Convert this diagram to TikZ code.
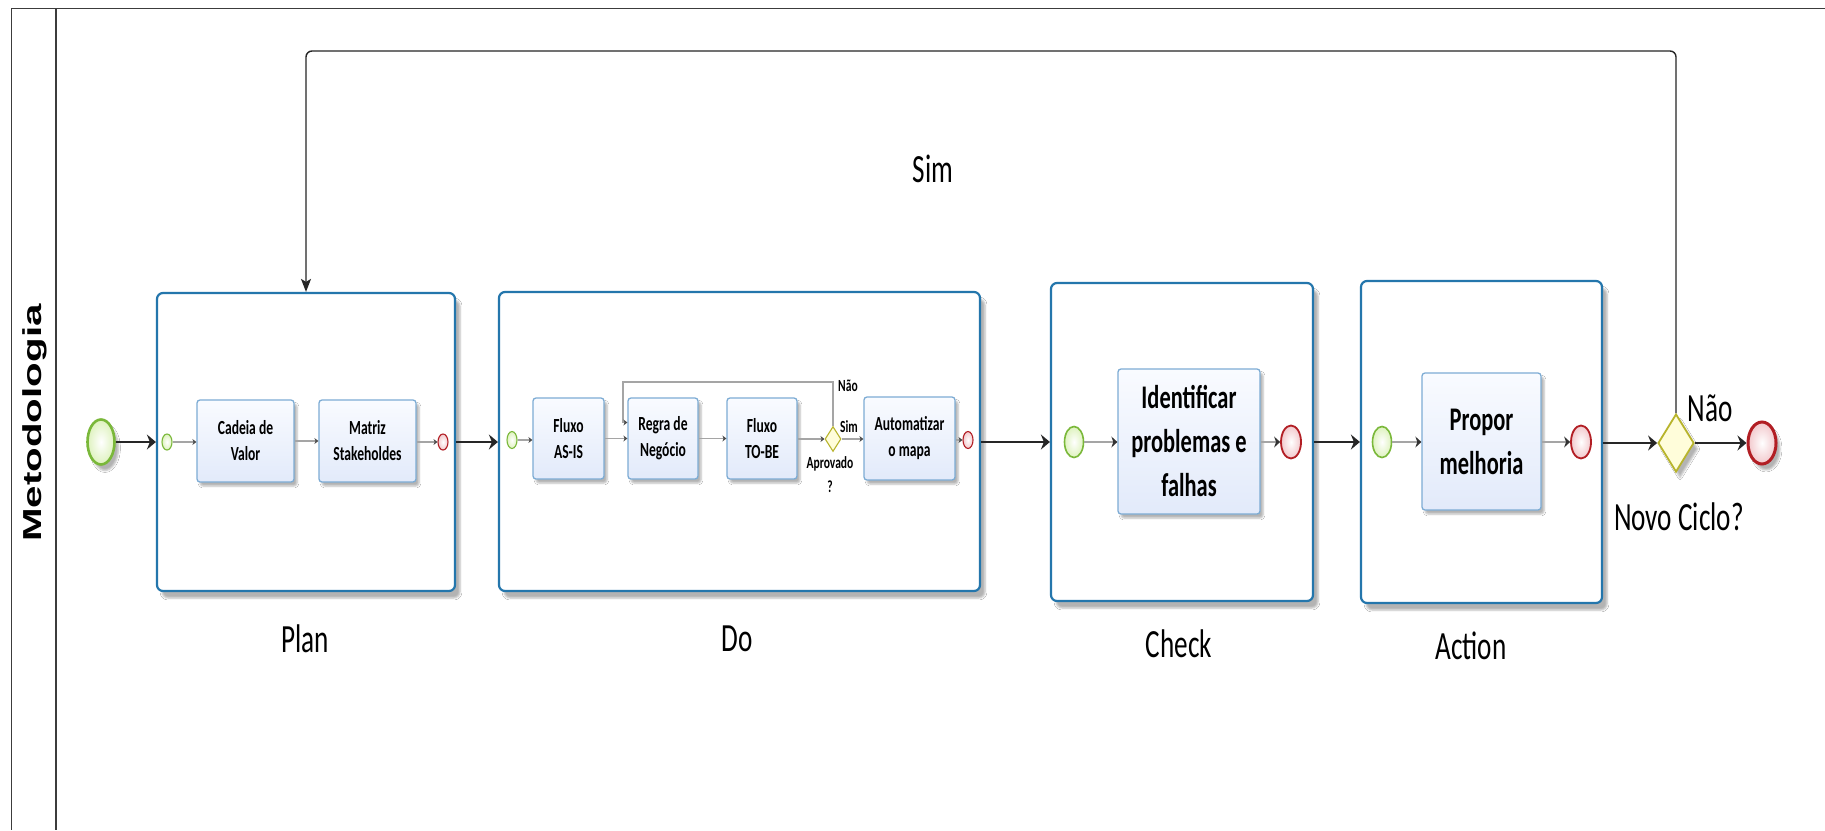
\documentclass[tikz,border=0pt]{standalone}
\usepackage{fontspec}
\setmainfont{Carlito}
\newfontfamily\condfont[FakeStretch=0.68]{Carlito}
\newfontfamily\lanefont[FakeStretch=1.55]{Liberation Sans}
\usetikzlibrary{shapes.geometric,arrows.meta,shadows.blur}

\definecolor{subblue}{RGB}{36,118,172}
\definecolor{taskline}{RGB}{125,172,212}
\definecolor{tasktop}{RGB}{249,251,255}
\definecolor{taskbot}{RGB}{226,234,250}
\definecolor{startline}{RGB}{122,184,58}
\definecolor{startfill}{RGB}{222,242,190}
\definecolor{endline}{RGB}{178,30,36}
\definecolor{endfill}{RGB}{242,200,204}
\definecolor{gwline}{RGB}{184,180,44}
\definecolor{gwfill}{RGB}{255,253,218}
\definecolor{framecol}{RGB}{60,60,60}
\definecolor{innerline}{RGB}{165,165,165}

\newcommand\tasktext{\condfont\bfseries\fontsize{20}{26}\selectfont}
\newcommand\bigtasktext{\condfont\bfseries\fontsize{33}{44}\selectfont}
\newcommand\phaselabel{\condfont\fontsize{40}{44}\selectfont}
\newcommand\smalllabel{\condfont\bfseries\fontsize{17}{24}\selectfont}

\begin{document}
\begin{tikzpicture}[x=1pt,y=-1pt,
  subproc/.style={draw=subblue, line width=2.2pt, rounded corners=6pt, fill=white,
    inner sep=0pt,
    blur shadow={shadow xshift=5pt, shadow yshift=-7pt, shadow opacity=30}},
  task/.style={draw=taskline, line width=1.3pt, rounded corners=3pt,
    top color=tasktop, bottom color=taskbot, align=center, inner sep=0pt,
    blur shadow={shadow xshift=3pt, shadow yshift=-4pt, shadow opacity=30}},
  startev/.style={ellipse, inner sep=0pt, draw=startline, inner color=white,
    outer color=startfill},
  endev/.style={ellipse, inner sep=0pt, draw=endline, inner color=white,
    outer color=endfill},
  gateway/.style={diamond, inner sep=0pt, draw=gwline, fill=gwfill},
  flow/.style={draw=black!85, line width=1.6pt,
    -{Stealth[length=9pt,width=15pt,inset=3pt]}},
  innerflow/.style={draw=innerline, line width=1.2pt,
    -{Stealth[length=4pt,width=6pt,color=black!70]}},
  midflow/.style={draw=innerline, line width=1.5pt,
    -{Stealth[length=6pt,width=11pt,color=black!80]}},
]

% canvas
\fill[white] (0,0) rectangle (1825,830);
\useasboundingbox (0,0) rectangle (1825,830);

% pool frame and lane header
\draw[framecol, line width=1.5pt] (1825,8.5) -- (11.5,8.5) -- (11.5,830);
\draw[framecol, line width=1.3pt] (56,8.5) -- (56,830);
\node[rotate=90, font=\lanefont\bfseries\fontsize{26}{30}\selectfont] (lane) at (35,423) {Metodologia};

% main start event
\node[startev, line width=2.6pt, minimum width=27pt, minimum height=45pt,
  blur shadow={shadow xshift=4pt, shadow yshift=-6pt, shadow opacity=30}] (start) at (101,442) {};

% ---------- Plan ----------
\node[subproc, minimum width=298pt, minimum height=298pt] (plan) at (306,442) {};
\node[startev, line width=1.1pt, minimum width=10pt, minimum height=16pt] (ps) at (167,442) {};
\node[task, font=\tasktext, minimum width=97pt, minimum height=82pt] (cadeia) at (245.5,441) {Cadeia de\\Valor};
\node[task, font=\tasktext, minimum width=97pt, minimum height=82pt] (matriz) at (367.5,441) {Matriz\\Stakeholdes};
\node[endev, line width=1.1pt, minimum width=10pt, minimum height=16pt] (pe) at (443,442) {};
\node[font=\phaselabel] (planlbl) at (305,639) {Plan};

% ---------- Do ----------
\node[subproc, minimum width=481pt, minimum height=299pt] (do) at (739.5,441.5) {};
\node[startev, line width=1.1pt, minimum width=10pt, minimum height=17pt] (ds) at (512,440) {};
\node[task, font=\tasktext, minimum width=71pt, minimum height=81pt] (asis) at (568.5,438.5) {Fluxo\\AS-IS};
\node[task, font=\tasktext, minimum width=70pt, minimum height=81pt] (regra) at (663,438.5) {Regra de\\Negócio};
\node[task, font=\tasktext, minimum width=70pt, minimum height=81pt] (tobe) at (762,438.5) {Fluxo\\TO-BE};
\node[gateway, line width=1.1pt, minimum width=16pt, minimum height=25pt] (gwa) at (833,439) {};
\node[task, font=\tasktext, minimum width=91pt, minimum height=83pt] (autom) at (909.5,438.5) {Automatizar\\o mapa};
\node[endev, line width=1.1pt, minimum width=10pt, minimum height=17pt] (de) at (968,440) {};
\node[font=\smalllabel] (naoa) at (848,386) {Não};
\node[font=\smalllabel] (sima) at (849,427) {Sim};
\node[font=\smalllabel, align=center] (aprov) at (830,475) {Aprovado\\?};
\node[font=\phaselabel] (dolbl) at (737,639) {Do};
\coordinate (backloop) at (623,382);

% ---------- Check ----------
\node[subproc, minimum width=262pt, minimum height=318pt] (check) at (1182,442) {};
\node[startev, line width=1.6pt, minimum width=19pt, minimum height=31pt] (cs) at (1074,442) {};
\node[task, font=\bigtasktext, minimum width=142pt, minimum height=145pt] (ident) at (1189,441.5) {Identificar\\problemas e\\falhas};
\node[endev, line width=1.8pt, minimum width=20pt, minimum height=33pt] (ce) at (1291,442) {};
\node[font=\phaselabel] (checklbl) at (1179,644) {Check};

% ---------- Action ----------
\node[subproc, minimum width=241pt, minimum height=322pt] (action) at (1481.5,442) {};
\node[startev, line width=1.6pt, minimum width=19pt, minimum height=31pt] (as) at (1382,442) {};
\node[task, font=\bigtasktext, minimum width=119pt, minimum height=137pt] (propor) at (1481.5,441.5) {Propor\\melhoria};
\node[endev, line width=1.8pt, minimum width=20pt, minimum height=33pt] (ae) at (1581,442) {};
\node[font=\phaselabel] (actionlbl) at (1471,646) {Action};

% ---------- decision and end ----------
\node[gateway, line width=1.8pt, minimum width=36pt, minimum height=58pt,
  blur shadow={shadow xshift=4pt, shadow yshift=-6pt, shadow opacity=30}] (gwb) at (1676,443) {};
\node[endev, line width=3pt, minimum width=28pt, minimum height=42pt,
  blur shadow={shadow xshift=4pt, shadow yshift=-6pt, shadow opacity=30}] (fim) at (1762,443) {};
\node[font=\phaselabel] (naob) at (1710,408) {Não};
\node[font=\phaselabel] (novo) at (1679,517) {Novo Ciclo?};
\node[font=\phaselabel] (simb) at (933,169) {Sim};
\coordinate (loopR) at (1676,51);
\coordinate (loopL) at (306,51);

% ---------- sequence flows ----------
\draw[flow] (start) -- (start -| plan.west);
\draw[innerflow] (ps) -- (ps -| cadeia.west);
\draw[innerflow] (cadeia) -- (matriz);
\draw[innerflow] (matriz.east |- pe) -- (pe);
\draw[flow] (plan.east |- start) -- (start -| do.west);

\draw[innerflow] (ds) -- (ds -| asis.west);
\draw[innerflow] (asis) -- (regra);
\draw[innerflow] (regra) -- (tobe);
\draw[innerflow] (tobe.east |- gwa) -- (gwa);
\draw[innerflow] (gwa) -- (gwa -| autom.west);
\draw[innerflow] (autom.east |- de) -- (de);
\draw[innerflow] (gwa.north) |- (backloop) |- ([yshift=16pt]regra.west);

\draw[flow] (do.east |- start) -- (start -| check.west);
\draw[midflow] (cs) -- (cs -| ident.west);
\draw[midflow] (ident.east |- ce) -- (ce);
\draw[flow] (check.east |- start) -- (start -| action.west);
\draw[midflow] (as) -- (as -| propor.west);
\draw[midflow] (propor.east |- ae) -- (ae);
\draw[flow] (action.east |- gwb) -- (gwb);
\draw[flow] (gwb) -- (fim);
\draw[draw=black!85, line width=1.4pt, rounded corners=6pt,
  -{Stealth[length=13pt,width=10pt,inset=3pt]}]
  (gwb.north) -- (loopR) -- (loopL) -- (loopL |- plan.north);

\end{tikzpicture}
\end{document}
